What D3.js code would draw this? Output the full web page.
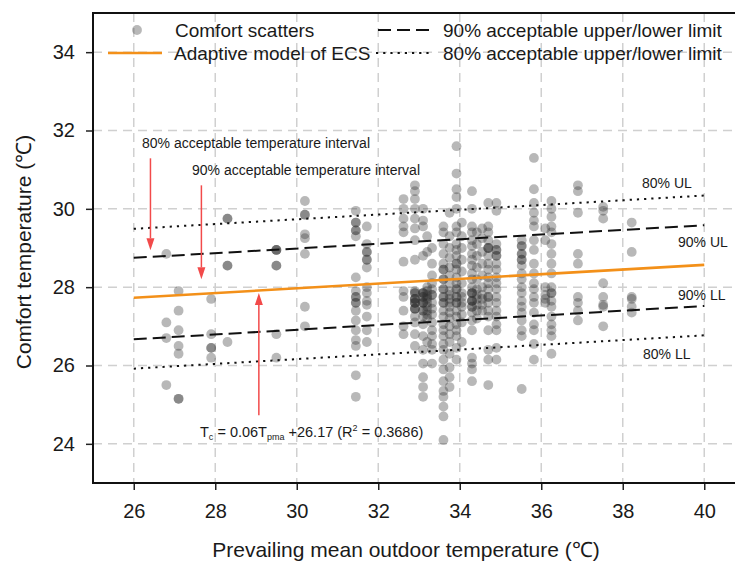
<!DOCTYPE html>
<html>
<head>
<meta charset="utf-8">
<script src="https://cdn.jsdelivr.net/npm/d3@7"></script>
<style>
  body { margin: 0; background: #fff; }
  svg { display: block; font-family: "Liberation Sans", Arial, sans-serif; }
</style>
</head>
<body>
<svg id="chart" width="735" height="568"></svg>
<script>
// Prevailing mean outdoor temperature of each survey group (°C)
const pmaColumns = [26.8, 27.1, 27.9, 28.3, 29.5, 30.2, 31.45, 31.72, 32.62, 32.9, 33.1, 33.2, 33.32,
  33.6, 33.75, 33.92, 34.05, 34.3, 34.42, 34.55, 34.7, 34.9, 35.52, 35.82, 36.1, 36.25, 36.9, 37.52, 38.22];

// Comfort temperatures reported in each group (°C)
const comfortColumns = [
  [28.85, 27.1, 26.7, 25.5],
  [27.9, 27.4, 26.9, 26.5, 26.3, 25.15, 25.15],
  [27.7, 26.8, 26.45, 26.45, 26.2],
  [29.75, 29.75, 28.55, 28.55, 26.6],
  [28.95, 28.95, 28.95, 28.55, 28.55, 26.8, 26.2],
  [30.2, 29.85, 29.85, 29.35, 29.25, 28.85, 27.5, 27.0],
  [29.95, 29.65, 29.65, 29.45, 29.45, 29.3, 28.25, 27.9, 27.75, 27.75, 27.6, 27.6, 27.4, 27.15, 26.9, 26.65, 26.5, 25.75, 25.2],
  [29.55, 29.1, 28.9, 28.9, 28.7, 28.7, 28.5, 28.0, 27.85, 27.65, 27.55, 27.25, 26.9, 26.6],
  [30.25, 30.0, 29.75, 29.55, 29.4, 28.65, 27.9, 27.75, 27.4, 27.0, 26.8],
  [30.6, 30.45, 30.25, 30.0, 29.75, 29.5, 29.2, 28.7, 27.9, 27.85, 27.85, 27.7, 27.7, 27.7, 27.6, 27.6, 27.6, 27.45, 27.45, 27.45, 27.25, 27.1, 26.8, 26.5],
  [30.0, 29.7, 29.55, 28.8, 27.85, 27.85, 27.85, 27.75, 27.75, 27.6, 27.6, 27.6, 27.4, 27.4, 27.25, 27.05, 26.75, 26.4, 26.05, 25.7, 25.45, 25.2],
  [29.3, 28.9, 28.0, 27.9, 27.8, 27.75, 27.7, 27.6, 27.5, 27.4, 27.3, 27.2, 26.6],
  [29.0, 28.6, 28.3, 28.1, 27.95, 27.8, 27.8, 27.6, 27.45, 27.3, 27.1, 26.9, 26.75, 26.55, 26.4, 26.05],
  [29.55, 29.4, 29.1, 28.85, 28.6, 28.45, 28.45, 28.2, 28.2, 27.95, 27.95, 27.75, 27.75, 27.6, 27.6, 27.4, 27.25, 27.05, 26.9, 26.75, 26.55, 26.4, 26.15, 25.9, 25.6, 25.35, 25.2, 24.95, 24.7, 24.1],
  [29.9, 29.3, 29.0, 28.75, 28.5, 28.3, 28.1, 27.9, 27.8, 27.7, 27.6, 27.5, 27.35, 27.2, 27.0, 26.8, 26.6, 26.3, 25.95, 25.7, 25.45],
  [31.6, 30.9, 30.5, 30.3, 30.0, 29.55, 29.4, 29.1, 28.95, 28.8, 28.6, 28.6, 28.45, 28.25, 28.1, 27.95, 27.95, 27.75, 27.75, 27.6, 27.6, 27.4, 27.25, 27.05, 26.9, 26.75, 26.45, 26.15],
  [29.65, 29.3, 29.0, 28.7, 28.4, 28.1, 27.85, 27.75, 27.6, 27.5, 27.3, 27.1, 26.6],
  [30.45, 30.0, 29.55, 29.4, 29.2, 29.05, 28.85, 28.7, 28.55, 28.35, 28.2, 28.0, 27.85, 27.85, 27.85, 27.65, 27.65, 27.65, 27.5, 27.5, 27.35, 27.15, 26.9, 26.2, 26.05, 25.9, 25.6],
  [29.4, 29.1, 28.8, 28.5, 28.2, 27.95, 27.8, 27.7, 27.55, 27.4, 27.2],
  [29.5, 29.25, 28.9, 28.6, 28.3, 28.0, 27.8, 27.7, 27.55, 27.4],
  [30.15, 29.55, 29.4, 29.2, 29.0, 29.0, 29.0, 28.8, 28.6, 28.45, 28.25, 28.1, 27.95, 27.75, 27.75, 27.6, 27.4, 27.25, 26.9, 26.4, 26.15, 25.5],
  [30.15, 29.95, 29.1, 28.95, 28.95, 28.8, 28.8, 28.6, 28.45, 28.25, 28.1, 27.95, 27.75, 27.6, 27.4, 27.25, 27.05, 26.9, 26.45, 26.15],
  [29.2, 29.05, 29.05, 28.85, 28.85, 28.7, 28.7, 28.55, 28.35, 28.2, 28.0, 27.85, 27.65, 27.5, 27.35, 27.15, 26.9, 26.75, 25.4],
  [31.3, 30.5, 30.15, 29.9, 29.7, 29.55, 29.2, 28.95, 28.6, 28.35, 28.1, 27.95, 27.75, 27.6, 27.35, 27.05, 26.9, 26.55, 26.15],
  [29.5, 29.2, 28.0, 27.8, 27.7, 27.6],
  [30.2, 30.0, 29.8, 29.55, 29.4, 29.1, 28.85, 28.6, 28.35, 28.0, 27.85, 27.85, 27.65, 27.5, 27.25, 27.05, 26.9, 26.75, 26.3],
  [30.6, 30.45, 29.9, 28.85, 28.6, 27.75, 27.6, 27.4, 27.15],
  [30.05, 29.95, 29.75, 28.1, 27.75, 27.55, 27.5, 27.0],
  [29.65, 28.9, 27.75, 27.7, 27.5, 27.35]
];

const xTicks = [26, 28, 30, 32, 34, 36, 38, 40];
const yTicks = [24, 26, 28, 30, 32, 34];

// Adaptive model: Tc = 0.06 Tpma + 26.17
const fitSlope = 0.06;
const fitIntercept = 26.17;
const fitR2 = "0.3686";

// Acceptable limits, evaluated at the ends of the model range
const limitRange = [26, 40];
const upper80 = [29.49, 30.34];
const upper90 = [28.75, 29.58];
const lower90 = [26.67, 27.52];
const lower80 = [25.92, 26.77];

const svg = d3.select("#chart");
const x = d3.scaleLinear().domain([25, 41]).range([93, 745]);
const y = d3.scaleLinear().domain([23, 35]).range([483, 13]);

const pointFill = "#2e2e2e";
const pointOpacity = 0.34;
const pointR = 4.9;
const orange = "#f39019";
const red = "#f24a4a";
const ink = "#1a1a1a";

svg.append("defs").append("clipPath").attr("id", "plotClip")
  .append("rect").attr("x", 93).attr("y", 13).attr("width", 652).attr("height", 470);

// Grid
const grid = svg.append("g").attr("stroke", "#d0d0d0").attr("stroke-width", 1.5)
  .attr("stroke-dasharray", "9,6");
grid.selectAll(".gx").data(xTicks).join("line")
  .attr("x1", d => x(d)).attr("x2", d => x(d)).attr("y1", y(35)).attr("y2", y(23));
grid.selectAll(".gy").data(yTicks).join("line")
  .attr("y1", d => y(d)).attr("y2", d => y(d)).attr("x1", x(25)).attr("x2", x(41));

// Scatter
const points = pmaColumns.flatMap((p, i) => comfortColumns[i].map(c => ({ p, c })));
const plot = svg.append("g").attr("clip-path", "url(#plotClip)");
plot.append("g").selectAll("circle").data(points).join("circle")
  .attr("cx", d => x(d.p)).attr("cy", d => y(d.c)).attr("r", pointR)
  .attr("fill", pointFill).attr("fill-opacity", pointOpacity);

// Limit lines
const limitLine = (vals, dash) => plot.append("line")
  .attr("x1", x(limitRange[0])).attr("x2", x(limitRange[1]))
  .attr("y1", y(vals[0])).attr("y2", y(vals[1]))
  .attr("stroke", "#111").attr("stroke-width", 2).attr("stroke-dasharray", dash);
limitLine(upper80, "2.2,5");
limitLine(lower80, "2.2,5");
limitLine(upper90, "13,6");
limitLine(lower90, "13,6");

// Model line
const fit = t => fitSlope * t + fitIntercept;
plot.append("line")
  .attr("x1", x(limitRange[0])).attr("x2", x(limitRange[1]))
  .attr("y1", y(fit(limitRange[0]))).attr("y2", y(fit(limitRange[1])))
  .attr("stroke", orange).attr("stroke-width", 2.6);

// Axes
const xAxis = svg.append("g").attr("transform", `translate(0,${y(23)})`)
  .call(d3.axisBottom(x).tickValues(xTicks).tickSize(7).tickPadding(14).tickFormat(d3.format("d")));
const yAxis = svg.append("g").attr("transform", `translate(${x(25)},0)`)
  .call(d3.axisLeft(y).tickValues(yTicks).tickSize(7).tickPadding(11).tickFormat(d3.format("d")));
[xAxis, yAxis].forEach(a => {
  a.select(".domain").remove();
  a.selectAll("text").attr("font-size", 20).attr("fill", ink)
    .attr("font-family", "'Liberation Sans', Arial, sans-serif");
  a.selectAll(".tick line").attr("stroke", "#222").attr("stroke-width", 1.5);
});

// Frame (left, top, bottom)
svg.append("path")
  .attr("d", `M${x(41)},${y(35)}H${x(25)}V${y(23)}H${x(41)}`)
  .attr("fill", "none").attr("stroke", "#111").attr("stroke-width", 2);

// Axis titles
svg.append("text").attr("x", 406).attr("y", 557).attr("text-anchor", "middle")
  .attr("font-size", 21).attr("fill", ink).text("Prevailing mean outdoor temperature (℃)");
svg.append("text").attr("transform", "translate(31,252) rotate(-90)").attr("text-anchor", "middle")
  .attr("font-size", 21).attr("fill", ink).text("Comfort temperature (℃)");

// Legend
const lg = svg.append("g").attr("font-size", 19).attr("fill", ink);
lg.append("circle").attr("cx", 137).attr("cy", 30).attr("r", pointR)
  .attr("fill", pointFill).attr("fill-opacity", pointOpacity);
lg.append("text").attr("x", 175).attr("y", 36.5).text("Comfort scatters");
lg.append("line").attr("x1", 108).attr("x2", 162).attr("y1", 53).attr("y2", 53)
  .attr("stroke", orange).attr("stroke-width", 2.6);
lg.append("text").attr("x", 174).attr("y", 59.5).text("Adaptive model of ECS");
lg.append("line").attr("x1", 378).attr("x2", 432).attr("y1", 30).attr("y2", 30)
  .attr("stroke", "#111").attr("stroke-width", 2).attr("stroke-dasharray", "13,6");
lg.append("text").attr("x", 443).attr("y", 36.5).text("90% acceptable upper/lower limit");
lg.append("line").attr("x1", 376).attr("x2", 429).attr("y1", 53).attr("y2", 53)
  .attr("stroke", "#111").attr("stroke-width", 2).attr("stroke-dasharray", "2.2,5");
lg.append("text").attr("x", 443).attr("y", 59.5).text("80% acceptable upper/lower limit");

// Annotations
const ann = svg.append("g").attr("font-size", 14).attr("fill", ink);
ann.append("text").attr("x", 142).attr("y", 148).text("80% acceptable temperature interval");
ann.append("text").attr("x", 192).attr("y", 175).text("90% acceptable temperature interval");

const arrows = [
  { t: 26.41, from: 31.29, to: 28.94 },
  { t: 27.66, from: 30.6, to: 28.2 },
  { t: 29.07, from: 24.73, to: 27.85 }
];
arrows.forEach(a => {
  const x0 = x(a.t), y0 = y(a.from), y1 = y(a.to);
  const dir = y1 > y0 ? 1 : -1;
  const headLen = 12, headW = 4;
  svg.append("line").attr("x1", x0).attr("x2", x0).attr("y1", y0).attr("y2", y1 - dir * headLen)
    .attr("stroke", red).attr("stroke-width", 1.5);
  svg.append("path")
    .attr("d", `M${x0},${y1}L${x0 - headW},${y1 - dir * headLen}L${x0 + headW},${y1 - dir * headLen}Z`)
    .attr("fill", red);
});

const eq = ann.append("text").attr("x", 200).attr("y", 437).attr("font-size", 14.5);
eq.append("tspan").text("T");
eq.append("tspan").attr("font-size", 9).attr("dy", 3).text("c");
eq.append("tspan").attr("dy", -3).text(" = " + fitSlope.toFixed(2) + "T");
eq.append("tspan").attr("font-size", 9).attr("dy", 3).text("pma");
eq.append("tspan").attr("dy", -3).text(" +" + fitIntercept.toFixed(2) + " (R");
eq.append("tspan").attr("font-size", 9).attr("dy", -6).text("2");
eq.append("tspan").attr("dy", 6).text(" = " + fitR2 + ")");

const lim = svg.append("g").attr("font-size", 14).attr("fill", ink);
lim.append("text").attr("x", 642).attr("y", 188).text("80% UL");
lim.append("text").attr("x", 678).attr("y", 247).text("90% UL");
lim.append("text").attr("x", 678).attr("y", 300).text("90% LL");
lim.append("text").attr("x", 643).attr("y", 359).text("80% LL");
</script>
</body>
</html>
